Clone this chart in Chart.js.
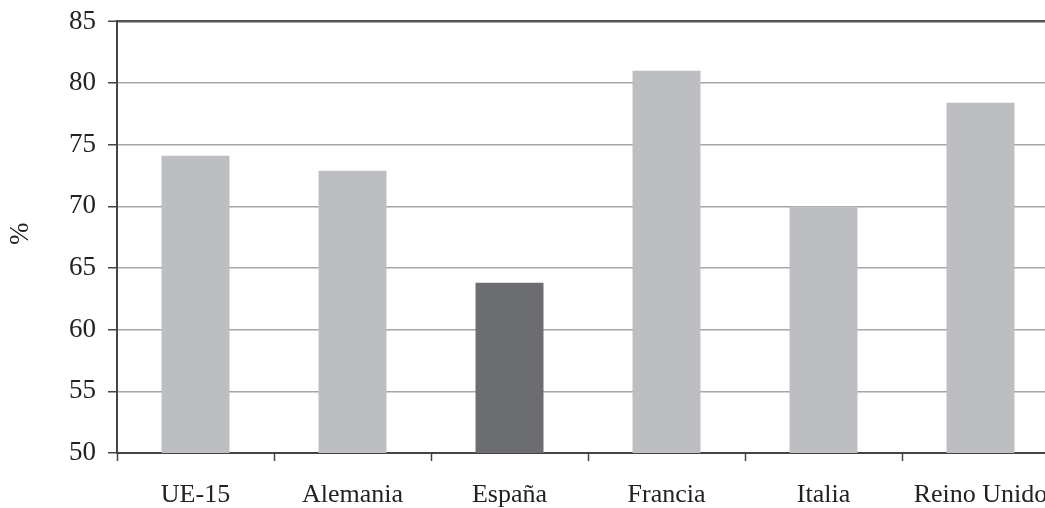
<!DOCTYPE html>
<html>
<head>
<meta charset="utf-8">
<script src="https://cdn.jsdelivr.net/npm/chart.js@4/dist/chart.umd.min.js"></script>
<style>
  html, body { margin: 0; padding: 0; background: #fff; overflow: hidden; }
  #wrap { position: relative; width: 1075px; height: 508px; }
</style>
</head>
<body>
<div id="wrap"><canvas id="c"></canvas></div>
<script>
// Tasa de empleo por país (%)
const categories = ['UE-15', 'Alemania', 'España', 'Francia', 'Italia', 'Reino Unido'];
const values = [74.1, 72.9, 63.8, 81.0, 70.0, 78.4];
const highlight = 'España';
const yMin = 50, yMax = 85, yStep = 5;

const LIGHT = '#bdbec2';
const DARK = '#6c6d71';
const AXIS = '#444444';
const FONT = 'Liberation Serif, Times New Roman, serif';

new Chart(document.getElementById('c'), {
  type: 'bar',
  data: {
    labels: categories,
    datasets: [{
      data: values,
      backgroundColor: categories.map(c => c === highlight ? DARK : LIGHT),
      borderWidth: 0,
      barPercentage: 0.433,
      categoryPercentage: 1.0
    }]
  },
  options: {
    responsive: true,
    maintainAspectRatio: false,
    animation: false,
    layout: { padding: { top: 8, right: 16, bottom: 0, left: 0 } },
    plugins: { legend: { display: false }, tooltip: { enabled: false } },
    scales: {
      x: {
        offset: true,
        grid: {
          offset: true,
          drawOnChartArea: false,
          drawTicks: true,
          tickLength: 8,
          tickColor: AXIS,
          tickWidth: 1.5
        },
        border: { display: true, color: AXIS, width: 2 },
        ticks: {
          color: '#222',
          font: { family: FONT, size: 26 },
          padding: 19,
          maxRotation: 0,
          autoSkip: false
        },
        afterFit: s => { s.height = 55; }
      },
      y: {
        min: yMin,
        max: yMax,
        ticks: {
          stepSize: yStep,
          color: '#222',
          font: { family: FONT, size: 27, lineHeight: 0.7 },
          padding: 12
        },
        grid: {
          color: ctx => ctx.tick && ctx.tick.value === yMax ? '#555555' : '#a6a6a6',
          lineWidth: ctx => ctx.tick && ctx.tick.value === yMax ? 2.5 : 1.5,
          drawTicks: true,
          tickLength: 9,
          tickColor: AXIS,
          tickWidth: 1.5
        },
        border: { display: true, color: AXIS, width: 2 },
        title: {
          display: true,
          text: ' %',
          color: '#222',
          font: { family: FONT, size: 27 },
          padding: { top: 5, bottom: 0 }
        },
        afterFit: s => { s.width = 117; }
      }
    }
  }
});
</script>
</body>
</html>
